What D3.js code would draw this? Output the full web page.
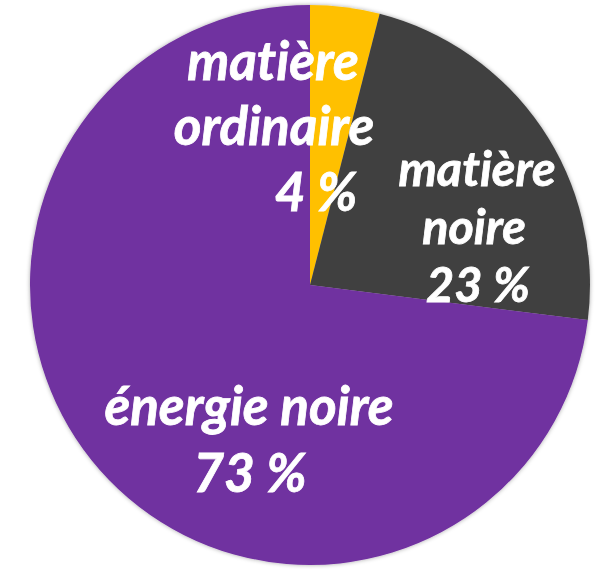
<!DOCTYPE html>
<html>
<head>
<meta charset="utf-8">
<script src="https://cdn.jsdelivr.net/npm/d3@7"></script>
<style>
html,body{margin:0;padding:0;background:#fff;}
svg{display:block;}
text{font-variant-ligatures:none;font-feature-settings:"liga" 0,"clig" 0;}
</style>
</head>
<body>
<svg id="chart" width="606" height="569"></svg>
<script>
const categories = ["matière ordinaire", "matière noire", "énergie noire"];
const values = [4, 23, 73];
const colors = ["#FFC000", "#404040", "#7030A0"];
const labelLines = [["matière", "ordinaire", "4 %"], ["matière", "noire", "23 %"], ["énergie noire", "73 %"]];

const W = 606, H = 569;
const cx = 310, cy = 285, R = 280;

const svg = d3.select("#chart");
const defs = svg.append("defs");
const f = defs.append("filter").attr("id", "sh").attr("x", "-10%").attr("y", "-10%").attr("width", "120%").attr("height", "120%");
f.append("feDropShadow").attr("dx", 0).attr("dy", 0).attr("stdDeviation", 2).attr("flood-color", "#000").attr("flood-opacity", 0.35);

const pie = d3.pie().sort(null).value(d => d)(values);
const arc = d3.arc().innerRadius(0).outerRadius(R);

const g = svg.append("g").attr("transform", `translate(${cx},${cy})`);
g.append("g").attr("filter", "url(#sh)")
  .selectAll("path").data(pie).join("path")
  .attr("d", arc)
  .attr("fill", (d, i) => colors[i]);

// label layout: per-slice line positions (center x, baseline y)
const labelLayout = [
  {size: 53, lines: [[273, 80], [274, 145], [316, 211]]},
  {size: 48.5, lines: [[477, 186], [474, 244], [478, 302]]},
  {size: 53, lines: [[249, 425], [250, 492]]}
];

labelLines.forEach((lines, i) => {
  const L = labelLayout[i];
  lines.forEach((t, j) => {
    svg.append("text")
      .attr("x", L.lines[j][0])
      .attr("y", L.lines[j][1])
      .attr("text-anchor", "middle")
      .attr("font-family", "Lato, 'Open Sans', sans-serif")
      .attr("font-weight", "bold")
      .attr("font-style", "italic")
      .attr("font-size", L.size)
      .attr("fill", "#fff")
      .attr("stroke", "#fff")
      .attr("stroke-width", 0.8)
      .text(t);
  });
});
</script>
</body>
</html>
